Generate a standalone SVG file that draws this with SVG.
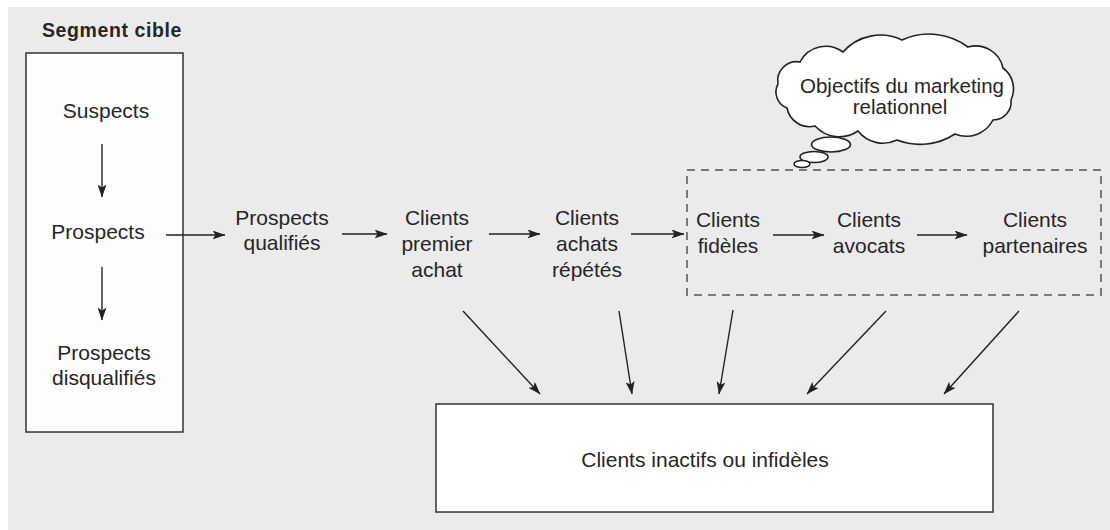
<svg xmlns="http://www.w3.org/2000/svg" width="1110" height="530" viewBox="0 0 1110 530">
<defs>
<marker id="ah" viewBox="0 0 13 9" refX="12.5" refY="4.5" markerWidth="13" markerHeight="9" markerUnits="userSpaceOnUse" orient="auto">
<path d="M0,0 L13,4.5 L0,9 L3,4.5 z" fill="#222"/>
</marker>
</defs>
<style>
text{font-family:"Liberation Sans",Arial,sans-serif;font-size:21px;fill:#262626;text-anchor:middle}
.title{font-weight:bold;font-size:19.5px;text-anchor:start;letter-spacing:0.6px}
.box{fill:#fdfdfd;stroke:#333;stroke-width:1.5}
.dash{fill:none;stroke:#555;stroke-width:1.5;stroke-dasharray:8 6}
.cloud{fill:#fff;stroke:#222;stroke-width:1.6}
.conn line{stroke:#222;stroke-width:1.4;marker-end:url(#ah)}
</style>
<rect x="8" y="7" width="1102" height="523" fill="#ebebeb"/>

<g id="segment">
<text class="title" x="42" y="37">Segment cible</text>
<rect class="box" x="26" y="53" width="157" height="379"/>
</g>
<g id="suspects"><text x="106" y="118">Suspects</text></g>
<g id="prospects"><text x="98" y="239">Prospects</text></g>
<g id="disqualifies"><text x="104" y="360">Prospects</text><text x="104" y="385">disqualifiés</text></g>
<g id="qualifies"><text x="282" y="225">Prospects</text><text x="282" y="250">qualifiés</text></g>
<g id="premier"><text x="437" y="225">Clients</text><text x="437" y="251">premier</text><text x="437" y="277">achat</text></g>
<g id="repetes"><text x="587" y="225">Clients</text><text x="587" y="251">achats</text><text x="587" y="277">répétés</text></g>

<g id="relationnel">
<rect class="dash" x="687" y="170" width="414" height="125"/>
</g>
<g id="fideles"><text x="728" y="227">Clients</text><text x="728" y="253">fidèles</text></g>
<g id="avocats"><text x="869" y="227">Clients</text><text x="869" y="253">avocats</text></g>
<g id="partenaires"><text x="1035" y="227">Clients</text><text x="1035" y="253">partenaires</text></g>

<g id="objectifs">
<path class="cloud" d="M778,84 A19,19 0 0 1 800,62 A29,29 0 0 1 843,52 A50,50 0 0 1 902,40 A65,65 0 0 1 968,47 A28,28 0 0 1 1003,68 A26,26 0 0 1 1011,100 A18,18 0 0 1 993,120 A30,30 0 0 1 955,134 A64,64 0 0 1 897,140 A32,32 0 0 1 858,131 A33,33 0 0 1 815,126 A23,23 0 0 1 787,108 A17,17 0 0 1 778,84 Z"/>
<ellipse class="cloud" cx="831" cy="144.5" rx="19.5" ry="7.5"/>
<ellipse class="cloud" cx="814" cy="157" rx="14" ry="5.5"/>
<ellipse class="cloud" cx="802" cy="164" rx="8" ry="3.5"/>
<text x="902" y="93" style="font-size:20.5px">Objectifs du marketing</text>
<text x="900" y="114" style="font-size:20.5px">relationnel</text>
</g>

<g id="inactifs">
<rect class="box" x="436" y="404" width="557" height="108" style="fill:#fff"/>
<text x="705" y="467">Clients inactifs ou infidèles</text>
</g>

<g class="conn" id="connectors">
<line x1="102" y1="144" x2="102" y2="197"/>
<line x1="166" y1="235" x2="225" y2="235"/>
<line x1="102" y1="267" x2="102" y2="320"/>
<line x1="342" y1="234" x2="387" y2="234"/>
<line x1="489" y1="234" x2="540" y2="234"/>
<line x1="631" y1="234" x2="684" y2="234"/>
<line x1="773" y1="235" x2="824" y2="235"/>
<line x1="917" y1="235" x2="967" y2="235"/>
<line x1="463" y1="311" x2="540" y2="394"/>
<line x1="619" y1="311" x2="632" y2="394"/>
<line x1="733" y1="310" x2="719" y2="394"/>
<line x1="886" y1="311" x2="807" y2="394"/>
<line x1="1019" y1="311" x2="944" y2="394"/>
</g>
</svg>
